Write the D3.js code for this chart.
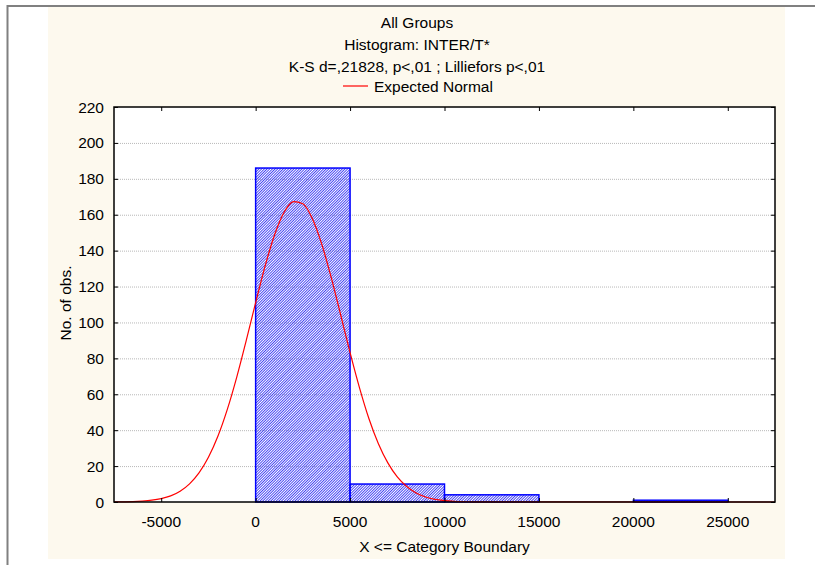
<!DOCTYPE html>
<html>
<head>
<meta charset="utf-8">
<script src="https://cdn.jsdelivr.net/npm/d3@7"></script>
<style>
  body { margin: 0; background: #fff; }
  svg text { font-family: "Liberation Sans", Arial, sans-serif; fill: #000; }
</style>
</head>
<body>
<svg id="chart" width="815" height="565"></svg>
<script>
// Histogram bins (lower boundary) and counts
const binStarts = [-5000, 0, 5000, 10000, 15000, 20000];
const binCounts = [0, 186, 10, 4, 0, 1];

// Expected normal curve
const curveX = [-7500, -7000, -6500, -6000, -5500, -5000, -4500, -4000, -3500, -3000, -2500, -2000,
  -1500, -1000, -500, 0, 500, 1000, 1500, 2000, 2500, 3000, 3500, 4000, 4500, 5000, 5500, 6000,
  6500, 7000, 7500, 8000, 8500, 9000, 9500, 10000, 10500, 11000, 11500, 12000, 27500];
const curveY = [0.05, 0.1, 0.2, 0.5, 1.0, 1.9, 3.4, 6.0, 10.1, 16.2, 24.9, 36.6,
  51.6, 69.6, 89.9, 111.1, 131.4, 148.7, 161.2, 167.3, 166.1, 157.9, 143.6, 125.1, 104.3, 83.2, 63.6, 46.4,
  32.5, 21.8, 14.0, 8.6, 5.0, 2.8, 1.5, 0.8, 0.4, 0.2, 0.08, 0.03, 0];

const xTicks = [-5000, 0, 5000, 10000, 15000, 20000, 25000];
const yTicks = [0, 20, 40, 60, 80, 100, 120, 140, 160, 180, 200, 220];
const binWidth = 5000;

const titles = ["All Groups", "Histogram: INTER/T*", "K-S d=,21828, p<,01 ; Lilliefors p<,01"];

const svg = d3.select("#chart");
const fs = 15.5;

// outer frame + cream panel
svg.append("rect").attr("x", 48).attr("y", 7).attr("width", 737).attr("height", 552).attr("fill", "#fdf9ee");
svg.append("line").attr("x1", 7).attr("x2", 815).attr("y1", 6).attr("y2", 6).attr("stroke", "#808080").attr("stroke-width", 2);
svg.append("line").attr("x1", 7.5).attr("x2", 7.5).attr("y1", 5).attr("y2", 565).attr("stroke", "#808080").attr("stroke-width", 2);

const pLeft = 114, pRight = 775, pTop = 107, pBottom = 502;

const x = d3.scaleLinear().domain([-7500, 27500]).range([pLeft, pRight]);
const y = d3.scaleLinear().domain([0, 220]).range([pBottom, pTop]);

// hatch pattern
const defs = svg.append("defs");
defs.append("pattern")
  .attr("id", "hatch")
  .attr("patternUnits", "userSpaceOnUse")
  .attr("width", 1.9).attr("height", 1.9)
  .attr("patternTransform", "rotate(45)")
  .append("rect")
  .attr("width", 0.95).attr("height", 1.9)
  .attr("fill", "#4545f3");

svg.append("rect").attr("x", pLeft).attr("y", pTop).attr("width", pRight - pLeft).attr("height", pBottom - pTop)
  .attr("fill", "#fff");

// grid lines
svg.append("g").selectAll("line")
  .data(yTicks.filter(d => d > 0 && d < 220))
  .join("line")
  .attr("x1", pLeft).attr("x2", pRight)
  .attr("y1", d => y(d) + 0.5).attr("y2", d => y(d) + 0.5)
  .attr("stroke", "#b8b8b8").attr("stroke-dasharray", "1,1");

// bars
svg.append("g").selectAll("rect")
  .data(binStarts.map((s, i) => ({ s: s, c: binCounts[i] })).filter(d => d.c > 0))
  .join("rect")
  .attr("x", d => x(d.s))
  .attr("y", d => y(d.c))
  .attr("width", d => x(d.s + binWidth) - x(d.s))
  .attr("height", d => y(0) - y(d.c))
  .attr("fill", "url(#hatch)")
  .attr("stroke", "#0000ff")
  .attr("stroke-width", 1.5);

// expected normal
const line = d3.line()
  .x((d, i) => x(curveX[i]))
  .y(d => y(d))
  .curve(d3.curveMonotoneX);

svg.append("path")
  .datum(curveY)
  .attr("d", line)
  .attr("fill", "none")
  .attr("stroke", "#ff0000")
  .attr("stroke-width", 1.2);

// plot frame
svg.append("rect").attr("x", pLeft).attr("y", pTop).attr("width", pRight - pLeft).attr("height", pBottom - pTop)
  .attr("fill", "none").attr("stroke", "#000").attr("stroke-width", 1.5);

// axes with inward ticks
const axisL = svg.append("g").attr("transform", `translate(${pLeft},0)`)
  .call(d3.axisRight(y).tickValues(yTicks).tickSize(4).tickFormat(""));
const axisR = svg.append("g").attr("transform", `translate(${pRight},0)`)
  .call(d3.axisLeft(y).tickValues(yTicks).tickSize(4).tickFormat(""));
const axisB = svg.append("g").attr("transform", `translate(0,${pBottom})`)
  .call(d3.axisTop(x).tickValues(xTicks).tickSize(4).tickFormat(""));
const axisT = svg.append("g").attr("transform", `translate(0,${pTop})`)
  .call(d3.axisBottom(x).tickValues(xTicks).tickSize(4).tickFormat(""));
[axisL, axisR, axisB, axisT].forEach(g => {
  g.select(".domain").remove();
  g.selectAll("line").attr("stroke", "#000");
});

// tick labels
svg.append("g").selectAll("text")
  .data(yTicks)
  .join("text")
  .attr("x", 104)
  .attr("y", d => y(d))
  .attr("dy", "0.36em")
  .attr("text-anchor", "end")
  .attr("font-size", fs)
  .text(d => d);

svg.append("g").selectAll("text")
  .data(xTicks)
  .join("text")
  .attr("x", d => x(d))
  .attr("y", 527)
  .attr("text-anchor", "middle")
  .attr("font-size", fs)
  .text(d => d);

// axis titles
svg.append("text")
  .attr("x", (pLeft + pRight) / 2)
  .attr("y", 552)
  .attr("text-anchor", "middle")
  .attr("font-size", fs)
  .text("X <= Category Boundary");

svg.append("text")
  .attr("transform", `translate(71,303) rotate(-90)`)
  .attr("text-anchor", "middle")
  .attr("font-size", fs)
  .text("No. of obs.");

// titles
svg.append("g").selectAll("text")
  .data(titles)
  .join("text")
  .attr("x", 417)
  .attr("y", (d, i) => 28 + i * 22)
  .attr("text-anchor", "middle")
  .attr("font-size", fs)
  .text(d => d);

// legend
svg.append("line").attr("x1", 343).attr("x2", 368).attr("y1", 86).attr("y2", 86)
  .attr("stroke", "#ff0000").attr("stroke-width", 1.2);
svg.append("text").attr("x", 374).attr("y", 92).attr("font-size", fs).text("Expected Normal");
</script>
</body>
</html>
